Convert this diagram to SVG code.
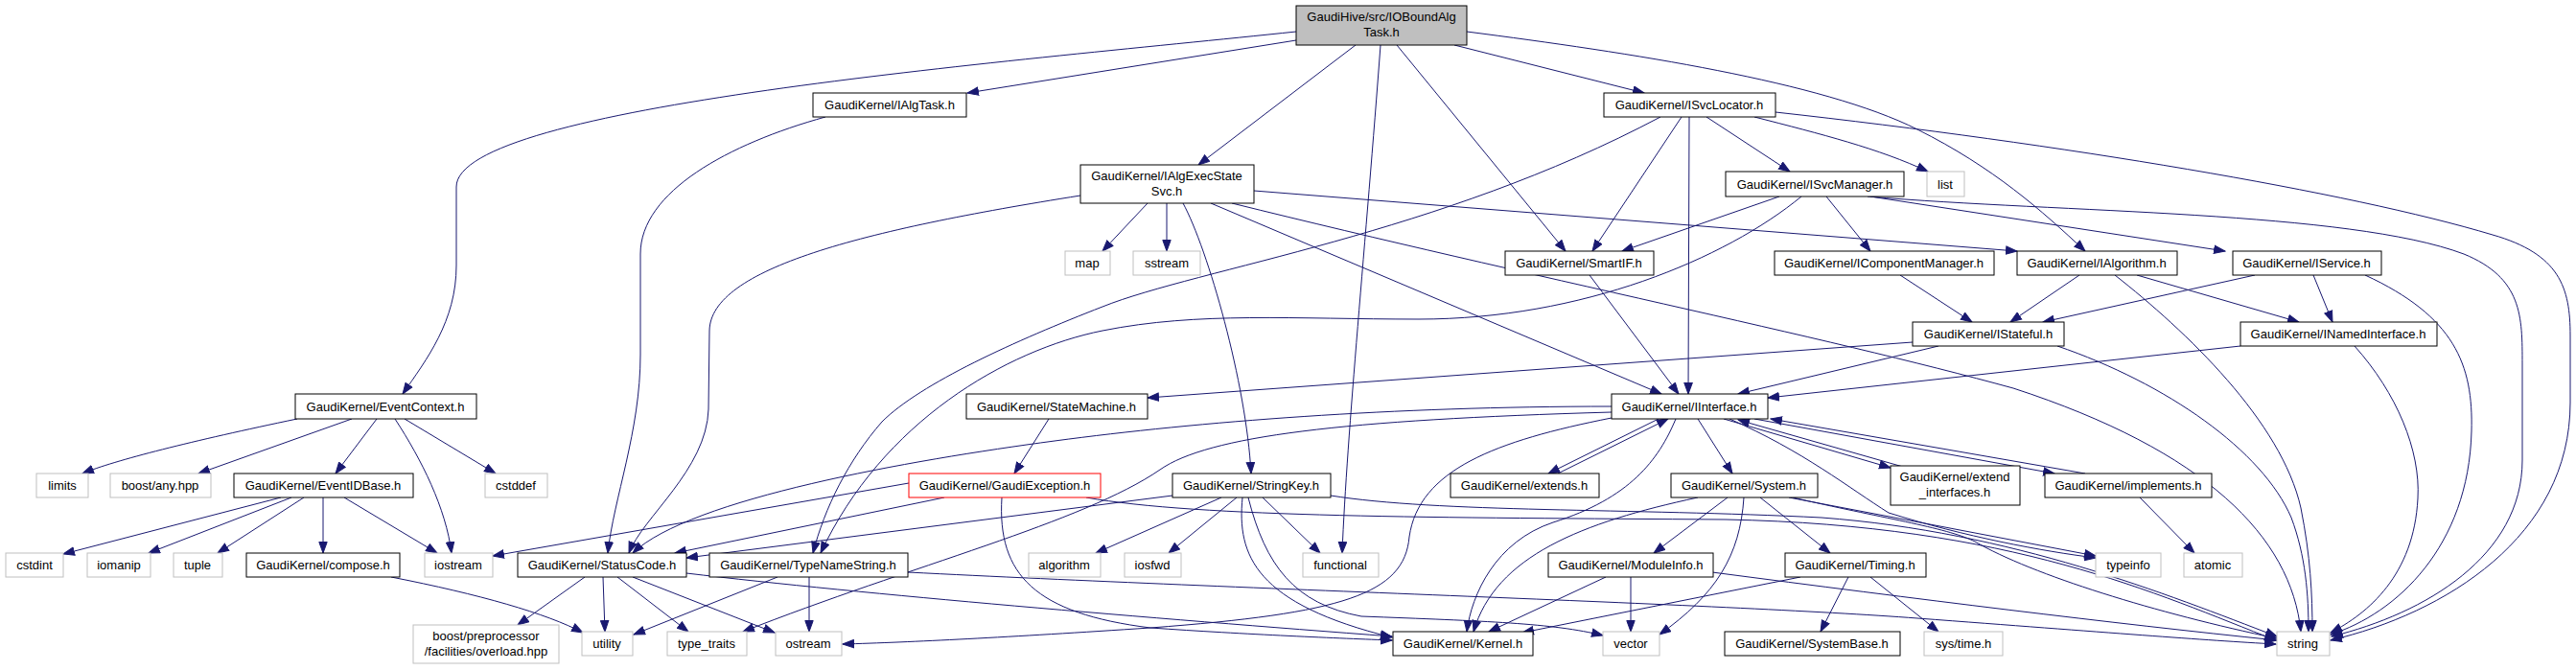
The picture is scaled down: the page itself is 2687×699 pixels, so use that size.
<svg xmlns="http://www.w3.org/2000/svg" width="2687" height="699" viewBox="0 0 2687 699">
<style>
.nd rect{fill:#ffffff;stroke:#000000;stroke-width:1}
.sys rect{fill:#ffffff;stroke:#bfbfbf;stroke-width:1}
.top rect{fill:#bfbfbf;stroke:#000000;stroke-width:1}
.red rect{fill:#ffffff;stroke:#ff0000;stroke-width:1}
text{font-family:"Liberation Sans",Arial,Helvetica,sans-serif;font-size:13px;fill:#000000;text-anchor:middle}
#edges path{fill:none;stroke:#191970;stroke-width:1;marker-end:url(#ah)}
</style>
<defs>
<marker id="ah" markerWidth="13" markerHeight="10" refX="12" refY="5" orient="auto" markerUnits="userSpaceOnUse">
<path d="M0.5,0.8 L12,5 L0.5,9.2 z" fill="#191970" stroke="#191970" stroke-width="1"/>
</marker>
</defs>
<rect width="2687" height="699" fill="#ffffff"/>
<g id="edges">
<path d="M1352,33 C1050,65 476,110 476,195 L476,277 C476,335 445,375 420,411"/>
<path d="M1352,42 L1009,97"/>
<path d="M1414,47 L1250,172"/>
<path d="M1440,47 C1425,250 1405,450 1400,577"/>
<path d="M1457,47 L1633,262"/>
<path d="M1517,47 L1715,97"/>
<path d="M1530,33 C1700,55 1900,85 2000,135 C2080,175 2130,220 2175,262"/>
<path d="M861,122 C760,150 668,200 668,265 L668,370 C668,450 640,520 634,577"/>
<path d="M1754,122 L1661,262"/>
<path d="M1762,122 L1761,411"/>
<path d="M1780,122 L1867,179"/>
<path d="M1830,122 C1900,140 1960,155 2011,179"/>
<path d="M1852,117 C2150,150 2450,200 2600,245 C2670,265 2681,300 2681,350 L2681,420 C2681,560 2550,640 2431,668"/>
<path d="M1732,122 C1500,245 1250,280 1150,320 C1060,355 960,400 920,440 C885,480 860,530 848,577"/>
<path d="M1856,205 L1692,262"/>
<path d="M1879,205 C1800,270 1650,333 1480,333 C1350,333 1250,325 1150,345 C1050,365 920,440 856,577"/>
<path d="M1905,205 L1951,262"/>
<path d="M1951,205 L2321,262"/>
<path d="M1948,205 C2150,222 2450,220 2570,265 C2631,290 2631,330 2631,380 L2631,480 C2631,580 2530,640 2432,664"/>
<path d="M1197,212 L1150,262"/>
<path d="M1217,212 L1217,262"/>
<path d="M1234,212 C1260,260 1300,400 1305,494"/>
<path d="M1263,212 L1733,411"/>
<path d="M1285,212 C1600,290 1900,350 2100,405 C2300,470 2390,560 2400,659"/>
<path d="M1308,199 L2104,262"/>
<path d="M1127,204 C900,240 741,280 740,345 L739,427 C737,490 670,540 656,577"/>
<path d="M1658,287 L1751,411"/>
<path d="M1982,287 L2057,336"/>
<path d="M2169,287 L2097,336"/>
<path d="M2229,287 L2398,336"/>
<path d="M2206,287 C2280,345 2380,440 2400,530 C2410,580 2412,620 2412,659"/>
<path d="M2352,287 L2131,336"/>
<path d="M2413,287 L2433,336"/>
<path d="M2467,287 C2560,330 2580,380 2578,450 C2575,570 2500,640 2431,662"/>
<path d="M2022,361 L1813,411"/>
<path d="M1995,357 L1197,415"/>
<path d="M2146,361 C2260,400 2360,470 2390,540 C2405,580 2408,620 2408,659"/>
<path d="M2337,361 L1844,415"/>
<path d="M2456,361 C2500,410 2525,470 2522,520 C2518,600 2470,640 2431,660"/>
<path d="M310,437 C200,460 120,480 86,494"/>
<path d="M367,437 L207,494"/>
<path d="M393,437 L350,494"/>
<path d="M412,437 C440,480 465,530 471,577"/>
<path d="M422,437 L517,494"/>
<path d="M293,519 L66,578"/>
<path d="M304,519 L155,577"/>
<path d="M317,519 L227,577"/>
<path d="M337,519 L337,577"/>
<path d="M359,519 L456,577"/>
<path d="M408,602 C500,620 570,640 608,660"/>
<path d="M610,602 L540,652"/>
<path d="M629,602 L631,659"/>
<path d="M644,602 L718,659"/>
<path d="M660,602 L808,660"/>
<path d="M716,598 C900,620 1200,645 1452,664"/>
<path d="M811,602 L661,662"/>
<path d="M844,602 L844,659"/>
<path d="M947,597 C1300,615 1800,630 2000,645 C2200,660 2300,668 2374,672"/>
<path d="M1681,424 C1450,424 1250,440 1100,460 C950,480 720,520 660,577"/>
<path d="M1681,430 C1400,438 1260,455 1210,490 C1130,545 950,590 775,659"/>
<path d="M1681,436 C1560,460 1480,490 1470,560 C1465,620 1400,640 1200,655 C1050,665 950,670 879,672"/>
<path d="M1748,437 C1730,480 1700,520 1620,545 C1560,565 1535,620 1530,659"/>
<path d="M1771,437 L1807,494"/>
<path d="M1804,437 C1880,470 1930,510 1970,535 C2050,560 2130,575 2186,582"/>
<path d="M1730,437 L1615,494"/>
<path d="M1625,494 L1740,437"/>
<path d="M1798,437 L1972,488"/>
<path d="M1985,487 L1813,438"/>
<path d="M1830,437 L2143,494"/>
<path d="M2175,494 L1847,437"/>
<path d="M1802,519 L1725,577"/>
<path d="M1771,519 C1650,545 1560,580 1537,659"/>
<path d="M1819,519 C1815,580 1790,620 1731,662"/>
<path d="M1836,519 L1909,577"/>
<path d="M1866,519 L2186,580"/>
<path d="M1870,519 C1960,540 2030,550 2060,565 C2120,600 2250,640 2375,666"/>
<path d="M1675,602 L1553,659"/>
<path d="M1701,602 L1701,659"/>
<path d="M1786,597 C2000,625 2200,650 2375,668"/>
<path d="M1878,602 L1588,660"/>
<path d="M1928,602 L1899,659"/>
<path d="M1951,602 L2022,659"/>
<path d="M2232,519 L2289,577"/>
<path d="M1094,437 L1058,494"/>
<path d="M948,504 L514,580"/>
<path d="M985,519 L704,577"/>
<path d="M1045,519 C1040,600 1080,640 1200,655 C1300,662 1400,666 1452,668"/>
<path d="M1133,519 C1250,540 1500,540 1800,542 C2100,548 2250,620 2374,668"/>
<path d="M1223,517 L716,582"/>
<path d="M1274,519 L1143,577"/>
<path d="M1290,519 L1219,577"/>
<path d="M1317,519 L1377,577"/>
<path d="M1296,519 C1290,580 1310,630 1452,665"/>
<path d="M1302,519 C1320,590 1350,630 1420,643 C1550,648 1620,650 1672,663"/>
<path d="M1388,517 C1500,535 1700,530 1900,540 C2100,555 2260,620 2375,664"/>
</g>
<g id="n_top" class="top"><rect x="1352" y="6" width="178" height="41"/><text x="1441" y="22">GaudiHive/src/IOBoundAlg</text><text x="1441" y="38">Task.h</text></g>
<g id="n_IAlgTask" class="nd"><rect x="848" y="97" width="160" height="25"/><text x="928" y="114">GaudiKernel/IAlgTask.h</text></g>
<g id="n_ISvcLocator" class="nd"><rect x="1673" y="97" width="179" height="25"/><text x="1762" y="114">GaudiKernel/ISvcLocator.h</text></g>
<g id="n_IAlgExecStateSvc" class="nd"><rect x="1127" y="172" width="181" height="40"/><text x="1217" y="188">GaudiKernel/IAlgExecState</text><text x="1217" y="204">Svc.h</text></g>
<g id="n_map" class="sys"><rect x="1111" y="262" width="47" height="25"/><text x="1134" y="279">map</text></g>
<g id="n_sstream" class="sys"><rect x="1182" y="262" width="70" height="25"/><text x="1217" y="279">sstream</text></g>
<g id="n_SmartIF" class="nd"><rect x="1570" y="262" width="155" height="25"/><text x="1647" y="279">GaudiKernel/SmartIF.h</text></g>
<g id="n_ISvcManager" class="nd"><rect x="1800" y="179" width="186" height="26"/><text x="1893" y="197">GaudiKernel/ISvcManager.h</text></g>
<g id="n_list" class="sys"><rect x="2010" y="179" width="39" height="26"/><text x="2029" y="197">list</text></g>
<g id="n_IComponentManager" class="nd"><rect x="1851" y="262" width="229" height="25"/><text x="1965" y="279">GaudiKernel/IComponentManager.h</text></g>
<g id="n_IAlgorithm" class="nd"><rect x="2104" y="262" width="167" height="25"/><text x="2187" y="279">GaudiKernel/IAlgorithm.h</text></g>
<g id="n_IService" class="nd"><rect x="2329" y="262" width="155" height="25"/><text x="2406" y="279">GaudiKernel/IService.h</text></g>
<g id="n_IStateful" class="nd"><rect x="1995" y="336" width="158" height="25"/><text x="2074" y="353">GaudiKernel/IStateful.h</text></g>
<g id="n_INamedInterface" class="nd"><rect x="2337" y="336" width="205" height="25"/><text x="2439" y="353">GaudiKernel/INamedInterface.h</text></g>
<g id="n_EventContext" class="nd"><rect x="308" y="411" width="189" height="26"/><text x="402" y="429">GaudiKernel/EventContext.h</text></g>
<g id="n_StateMachine" class="nd"><rect x="1008" y="411" width="189" height="26"/><text x="1102" y="429">GaudiKernel/StateMachine.h</text></g>
<g id="n_IInterface" class="nd"><rect x="1681" y="411" width="163" height="26"/><text x="1762" y="429">GaudiKernel/IInterface.h</text></g>
<g id="n_limits" class="sys"><rect x="38" y="494" width="54" height="25"/><text x="65" y="511">limits</text></g>
<g id="n_boostany" class="sys"><rect x="115" y="494" width="105" height="25"/><text x="167" y="511">boost/any.hpp</text></g>
<g id="n_EventIDBase" class="nd"><rect x="244" y="494" width="187" height="25"/><text x="337" y="511">GaudiKernel/EventIDBase.h</text></g>
<g id="n_cstddef" class="sys"><rect x="506" y="494" width="65" height="25"/><text x="538" y="511">cstddef</text></g>
<g id="n_GaudiException" class="red"><rect x="948" y="494" width="200" height="25"/><text x="1048" y="511">GaudiKernel/GaudiException.h</text></g>
<g id="n_StringKey" class="nd"><rect x="1223" y="494" width="165" height="25"/><text x="1305" y="511">GaudiKernel/StringKey.h</text></g>
<g id="n_extends" class="nd"><rect x="1513" y="494" width="155" height="25"/><text x="1590" y="511">GaudiKernel/extends.h</text></g>
<g id="n_System" class="nd"><rect x="1743" y="494" width="153" height="25"/><text x="1819" y="511">GaudiKernel/System.h</text></g>
<g id="n_extend_interfaces" class="nd"><rect x="1972" y="486" width="135" height="41"/><text x="2039" y="502">GaudiKernel/extend</text><text x="2039" y="518">_interfaces.h</text></g>
<g id="n_implements" class="nd"><rect x="2133" y="494" width="174" height="25"/><text x="2220" y="511">GaudiKernel/implements.h</text></g>
<g id="n_cstdint" class="sys"><rect x="6" y="577" width="60" height="25"/><text x="36" y="594">cstdint</text></g>
<g id="n_iomanip" class="sys"><rect x="91" y="577" width="66" height="25"/><text x="124" y="594">iomanip</text></g>
<g id="n_tuple" class="sys"><rect x="181" y="577" width="51" height="25"/><text x="206" y="594">tuple</text></g>
<g id="n_compose" class="nd"><rect x="257" y="577" width="160" height="25"/><text x="337" y="594">GaudiKernel/compose.h</text></g>
<g id="n_iostream" class="sys"><rect x="443" y="577" width="71" height="25"/><text x="478" y="594">iostream</text></g>
<g id="n_StatusCode" class="nd"><rect x="540" y="577" width="176" height="25"/><text x="628" y="594">GaudiKernel/StatusCode.h</text></g>
<g id="n_TypeNameString" class="nd"><rect x="740" y="577" width="207" height="25"/><text x="843" y="594">GaudiKernel/TypeNameString.h</text></g>
<g id="n_algorithm" class="sys"><rect x="1073" y="577" width="75" height="25"/><text x="1110" y="594">algorithm</text></g>
<g id="n_iosfwd" class="sys"><rect x="1173" y="577" width="59" height="25"/><text x="1202" y="594">iosfwd</text></g>
<g id="n_functional" class="sys"><rect x="1359" y="577" width="79" height="25"/><text x="1398" y="594">functional</text></g>
<g id="n_ModuleInfo" class="nd"><rect x="1615" y="577" width="172" height="25"/><text x="1701" y="594">GaudiKernel/ModuleInfo.h</text></g>
<g id="n_Timing" class="nd"><rect x="1862" y="577" width="147" height="25"/><text x="1935" y="594">GaudiKernel/Timing.h</text></g>
<g id="n_typeinfo" class="sys"><rect x="2186" y="577" width="68" height="25"/><text x="2220" y="594">typeinfo</text></g>
<g id="n_atomic" class="sys"><rect x="2278" y="577" width="61" height="25"/><text x="2308" y="594">atomic</text></g>
<g id="n_boostpp" class="sys"><rect x="431" y="652" width="152" height="40"/><text x="507" y="668">boost/preprocessor</text><text x="507" y="684">/facilities/overload.hpp</text></g>
<g id="n_utility" class="sys"><rect x="607" y="659" width="53" height="25"/><text x="633" y="676">utility</text></g>
<g id="n_type_traits" class="sys"><rect x="696" y="659" width="83" height="25"/><text x="737" y="676">type_traits</text></g>
<g id="n_ostream" class="sys"><rect x="809" y="659" width="69" height="25"/><text x="843" y="676">ostream</text></g>
<g id="n_Kernel" class="nd"><rect x="1453" y="659" width="146" height="25"/><text x="1526" y="676">GaudiKernel/Kernel.h</text></g>
<g id="n_vector" class="sys"><rect x="1672" y="659" width="59" height="25"/><text x="1701" y="676">vector</text></g>
<g id="n_SystemBase" class="nd"><rect x="1799" y="659" width="183" height="25"/><text x="1890" y="676">GaudiKernel/SystemBase.h</text></g>
<g id="n_systime" class="sys"><rect x="2007" y="659" width="82" height="25"/><text x="2048" y="676">sys/time.h</text></g>
<g id="n_string" class="sys"><rect x="2375" y="659" width="55" height="25"/><text x="2402" y="676">string</text></g>
</svg>
